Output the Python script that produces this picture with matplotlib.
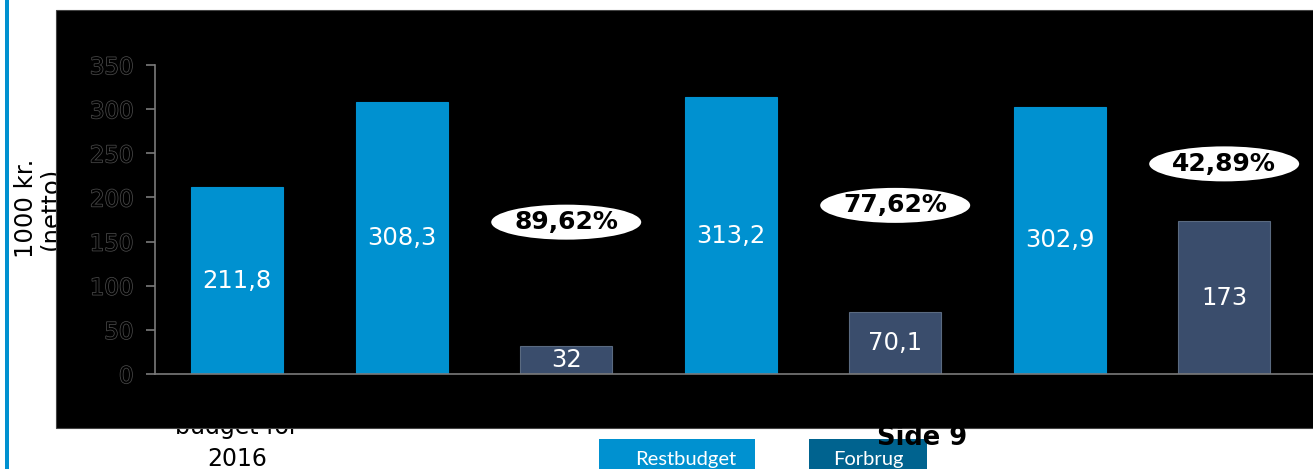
import matplotlib
matplotlib.use("Agg")
import matplotlib.pyplot as plt
import matplotlib.patches as mpatches
import matplotlib.patheffects as pe

# Data
categories = ["Oprindeligt budget for 2016", "Restbudget 1", "Forbrug 1",
              "Restbudget 2", "Forbrug 2", "Restbudget 3", "Forbrug 3"]
values = [211.8, 308.3, 32, 313.2, 70.1, 302.9, 173]
value_labels = ["211,8", "308,3", "32", "313,2", "70,1", "302,9", "173"]
is_forbrug = [False, False, True, False, True, False, True]
pct_labels = ["89,62%", "77,62%", "42,89%"]
pct_index = [2, 4, 6]
yticks = [0, 50, 100, 150, 200, 250, 300, 350]

# Colours / layout
c_rest = "#0091d0"
c_forbrug = "#3a4d6c"
c_legend_forbrug = "#00638f"
pct_y = [172, 191, 238]

W, H = 1313, 469
fig = plt.figure(figsize=(13.13, 4.69), dpi=100)
fig.patch.set_facecolor("white")

# left blue line
fig.patches.append(mpatches.Rectangle((5 / W, 0), 4 / W, 1, transform=fig.transFigure,
                                      facecolor=c_rest, edgecolor="none", zorder=0.2))

# y label and category text sit behind the black panel
fig.text(38 / W, (H - 208) / H, "1000 kr.\n(netto)", rotation=90, ha="center",
         va="center", multialignment="center", fontsize=17.5, linespacing=1.05,
         color="black", zorder=0.5)
fig.text(237 / W, (H - 434) / H, "budget for", ha="center", va="baseline",
         fontsize=17, color="black", zorder=0.5)
fig.text(237 / W, (H - 466) / H, "2016", ha="center", va="baseline",
         fontsize=17, color="black", zorder=0.5)

# black panel
fig.patches.append(mpatches.Rectangle((56 / W, 41 / H), 1.0, 418 / H,
                                      transform=fig.transFigure, facecolor="black",
                                      edgecolor="#444444", linewidth=0.8, zorder=0.8))

# legend boxes
fig.patches.append(mpatches.Rectangle((599 / W, 0), 156 / W, 30 / H,
                                      transform=fig.transFigure, facecolor=c_rest,
                                      edgecolor="none", zorder=0.9))
fig.patches.append(mpatches.Rectangle((809 / W, 0), 118 / W, 30 / H,
                                      transform=fig.transFigure, facecolor=c_legend_forbrug,
                                      edgecolor="none", zorder=0.9))
fig.text(686 / W, (H - 465) / H, "Restbudget", ha="center", va="baseline", fontsize=14.5,
         family="Lato", color="white", zorder=0.95)
fig.text(868 / W, (H - 465) / H, "Forbrug", ha="center", va="baseline", fontsize=14.5,
         family="Lato", color="white", zorder=0.95)
fig.text(922 / W, (H - 445) / H, "Side 9", ha="center", va="baseline", fontsize=18.5,
         fontweight="bold", color="black", zorder=0.97)

ax = fig.add_axes([155 / W, 95 / H, 1158 / W, 309 / H])
ax.set_zorder(1)
ax.patch.set_visible(False)

x = list(range(len(categories)))
colors = [c_forbrug if f else c_rest for f in is_forbrug]
edges = ["#5a6a80" if f else c_rest for f in is_forbrug]
ax.bar(x, values, width=0.56, color=colors, edgecolor=edges, linewidth=0.8)

for xi, v, lbl in zip(x, values, value_labels):
    ax.text(xi, v / 2, lbl, ha="center", va="center", fontsize=17.5, color="white")

for idx, lbl, yy in zip(pct_index, pct_labels, pct_y):
    ax.text(idx, yy, lbl, ha="center", va="center", fontsize=18, fontweight="bold",
            color="black", zorder=5)
    ax.add_patch(mpatches.Ellipse((idx, yy), 150 / 164.5, 35 / 0.883, facecolor="white",
                                  edgecolor="none", zorder=4))

ax.set_xlim(-0.5, 6.54)
ax.set_ylim(0, 350)
ax.set_yticks(yticks)
ax.set_xticks([])
for s in ["top", "right"]:
    ax.spines[s].set_visible(False)
for s in ["left", "bottom"]:
    ax.spines[s].set_color("#7a7a7a")
    ax.spines[s].set_linewidth(1.2)
ax.spines["left"].set_bounds(0, 350)
ax.tick_params(axis="y", direction="out", length=6.5, width=1.2, color="#7a7a7a",
               pad=9, labelsize=16.5, labelcolor="black")
for t in ax.get_yticklabels():
    t.set_path_effects([pe.withStroke(linewidth=1.1, foreground="#4a4a4a")])

fig.savefig("out.png", dpi=100)
